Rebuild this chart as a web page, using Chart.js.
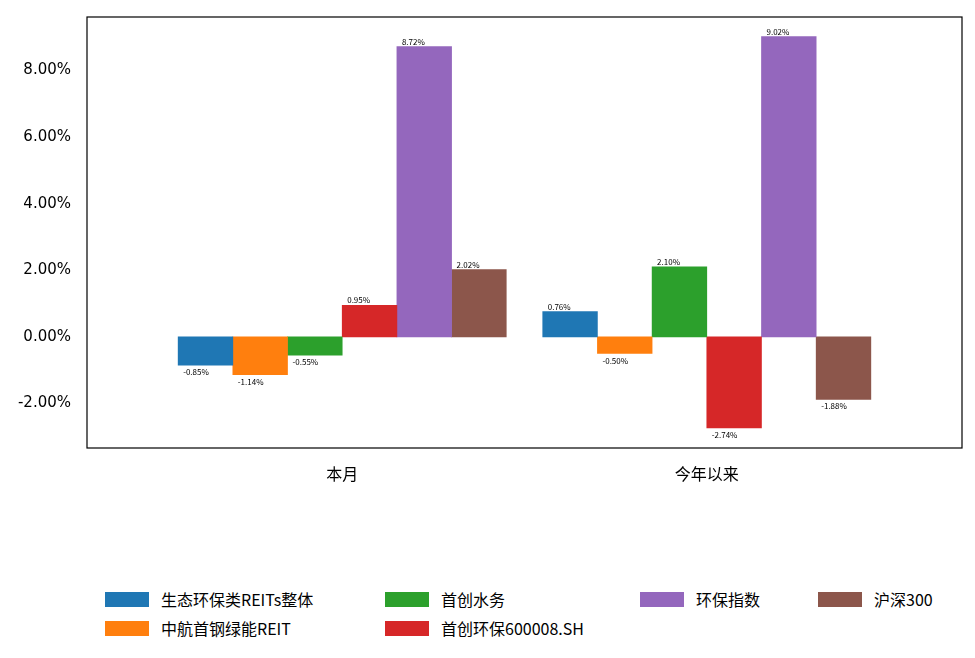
<!DOCTYPE html>
<html><head><meta charset="utf-8">
<script src="https://cdn.jsdelivr.net/npm/chart.js@4/dist/chart.umd.min.js"></script>
<style>
body{margin:0;background:#fff;font-family:"Noto Sans CJK SC",sans-serif}
#wrap{position:relative;width:975px;height:658px}
#c{position:absolute;left:0;top:0}
.lg{position:absolute;font-size:16px;color:#000;display:flex;align-items:center;white-space:nowrap}
.lg span{display:inline-block;width:44px;height:15px;margin-right:12px}
</style></head><body>
<div id="wrap"><canvas id="c" width="975" height="520" style="width:975px;height:520px"></canvas></div>
<script>
const categories=['本月','今年以来'];
const seriesNames=['生态环保类REITs整体','中航首钢绿能REIT','首创水务','首创环保600008.SH','环保指数','沪深300'];
const colors=['#1f77b4','#ff7f0e','#2ca02c','#d62728','#9467bd','#8c564b'];
const values=[[-0.85,0.76],[-1.14,-0.50],[-0.55,2.10],[0.95,-2.74],[8.72,9.02],[2.02,-1.88]];
const yTicks=[-2,0,2,4,6,8];
const bw=0.15;
const datasets=seriesNames.map((n,i)=>({label:n,backgroundColor:colors[i],
  data:values[i].map((v,k)=>({x:k+(i-2.5)*bw,y:v})),grouped:false,barPercentage:1,categoryPercentage:1}));
const borderPlugin={id:'bd',afterDraw(ch){const a=ch.chartArea,c=ch.ctx;c.save();c.strokeStyle='#000';c.lineWidth=1.2;c.strokeRect(a.left,a.top,a.right-a.left,a.bottom-a.top);
 c.font='8px "Noto Sans CJK SC"';c.fillStyle='#000';c.textAlign='left';
 ch.data.datasets.forEach((d,i)=>{ch.getDatasetMeta(i).data.forEach((el,k)=>{const v=values[i][k];const l=el.x-el.width/2+5;
  if(v>=0){c.textBaseline='bottom';c.fillText(v.toFixed(2)+'%',l,el.y-1);}else{c.textBaseline='top';c.fillText(v.toFixed(2)+'%',l,el.y+3);}});});
 c.restore();}};
new Chart(document.getElementById('c'),{type:'bar',data:{datasets},
 options:{responsive:false,animation:false,layout:{padding:{top:14,right:13,left:0,bottom:0}},
 plugins:{legend:{display:false},tooltip:{enabled:false}},
 scales:{x:{type:'linear',offset:false,min:-0.70,max:1.70,grid:{display:false},border:{display:false},
   afterBuildTicks(s){s.ticks=categories.map((c,i)=>({value:i}));},
   afterFit(s){s.height=72;},
   ticks:{callback:(v)=>categories[v],color:'#000',font:{size:16,family:'"Noto Sans CJK SC"'},padding:8}},
  y:{min:-3.34,max:9.61,grid:{display:false},border:{display:false},
   afterBuildTicks(s){s.ticks=yTicks.map(v=>({value:v}));},
   afterFit(s){s.width=87;},
   ticks:{callback:v=>v.toFixed(2)+'%',color:'#000',font:{size:15,family:'"DejaVu Sans"'},padding:8}}}},
 plugins:[borderPlugin]});
const pos=[[105,598],[105,627],[385,598],[385,627],[640,598],[818,598]];
seriesNames.forEach((n,i)=>{const d=document.createElement('div');d.className='lg';d.style.left=pos[i][0]+'px';d.style.top=(pos[i][1]-11)+'px';
 d.innerHTML='<span style="background:'+colors[i]+'"></span>'+n;document.getElementById('wrap').appendChild(d);});
</script></body></html>
